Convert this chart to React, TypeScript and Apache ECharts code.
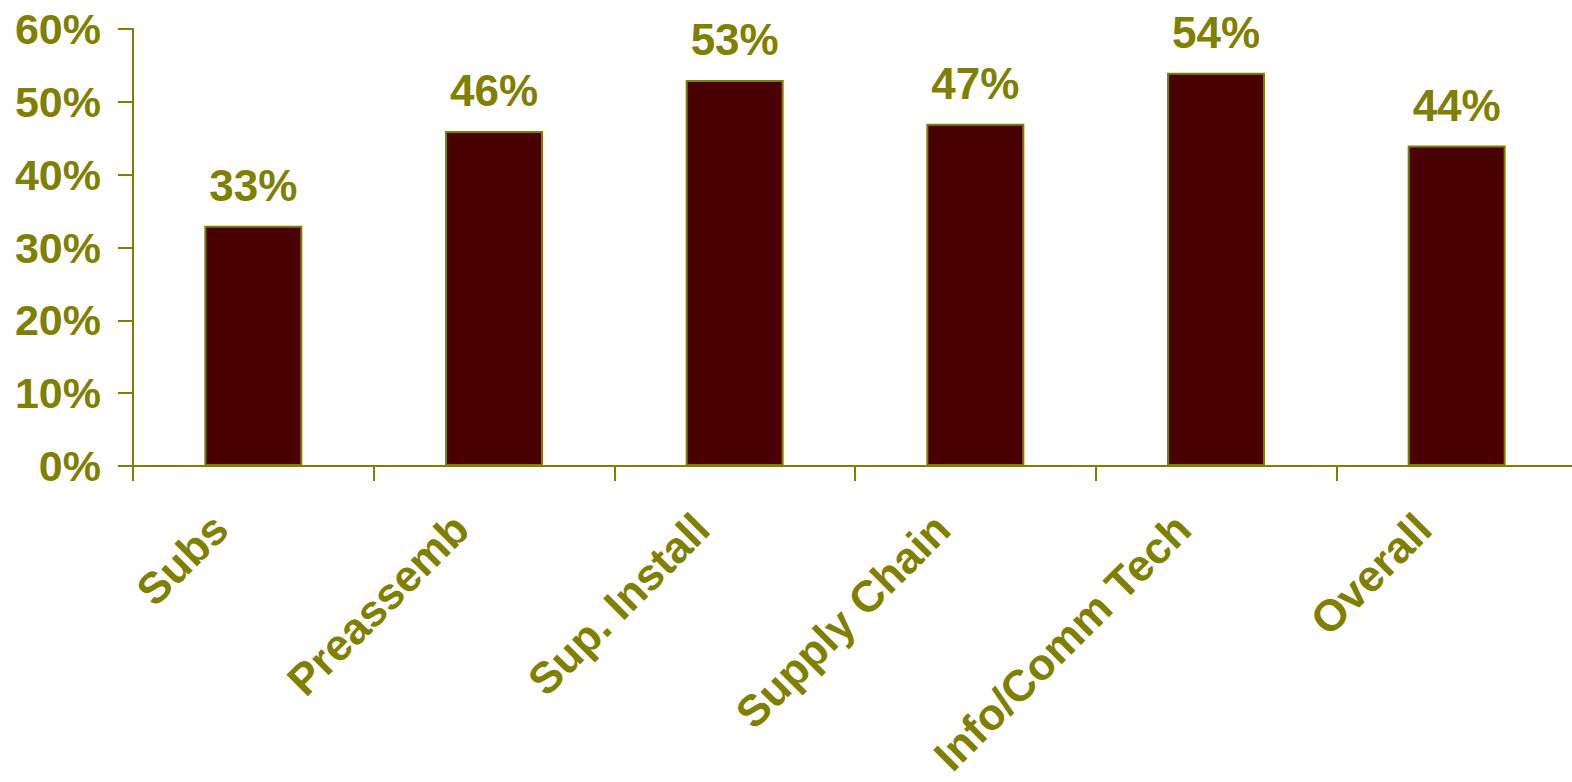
import React, { useEffect, useRef } from "react";
import * as echarts from "echarts";

const categories = ["Subs", "Preassemb", "Sup. Install", "Supply Chain", "Info/Comm Tech", "Overall"];
const values = [33, 46, 53, 47, 54, 44];
const yTicks = [0, 10, 20, 30, 40, 50, 60];

const OLIVE = "#808000";
const BAR = "#480000";
const FONT = "'Liberation Sans', Arial, sans-serif";

export default function App() {
  const ref = useRef<HTMLDivElement>(null);
  useEffect(() => {
    const chart = echarts.init(ref.current!, null, { renderer: "svg" });
    chart.setOption({
      animation: false,
      backgroundColor: "#ffffff",
      grid: {
        left: 133,
        top: 29,
        width: 1444,
        bottom: 316,
        containLabel: false,
        outerBoundsMode: "none",
      },
      xAxis: {
        type: "category",
        data: categories,
        boundaryGap: true,
        axisLine: { show: true, lineStyle: { color: OLIVE, width: 2 } },
        axisTick: { show: true, length: 15, alignWithLabel: false, lineStyle: { color: OLIVE, width: 2 } },
        axisLabel: {
          rotate: 45,
          interval: 0,
          margin: 22,
          padding: [0, 47, 0, 0],
          lineHeight: 44,
          color: OLIVE,
          fontFamily: FONT,
          fontWeight: "bold",
          fontSize: 44,
        },
      },
      yAxis: {
        type: "value",
        min: yTicks[0],
        max: yTicks[yTicks.length - 1],
        interval: 10,
        splitLine: { show: false },
        axisLine: { show: true, lineStyle: { color: OLIVE, width: 2 } },
        axisTick: { show: true, length: 15, lineStyle: { color: OLIVE, width: 2 } },
        axisLabel: {
          margin: 32,
          color: OLIVE,
          fontFamily: FONT,
          fontWeight: "bold",
          fontSize: 43,
          formatter: (v: number) => `${v}%`,
        },
      },
      series: [
        {
          type: "bar",
          data: values,
          barWidth: 98,
          itemStyle: { color: BAR, borderColor: OLIVE, borderWidth: 2 },
          label: {
            show: true,
            position: "top",
            distance: 18,
            color: OLIVE,
            fontFamily: FONT,
            fontWeight: "bold",
            fontSize: 44,
            formatter: (p: any) => `${p.value}%`,
          },
        },
      ],
    });
    return () => chart.dispose();
  }, []);
  return (
    <div
      ref={ref}
      style={{ position: "absolute", left: 0, top: 0, width: 1572, height: 782, background: "#fff" }}
    />
  );
}
